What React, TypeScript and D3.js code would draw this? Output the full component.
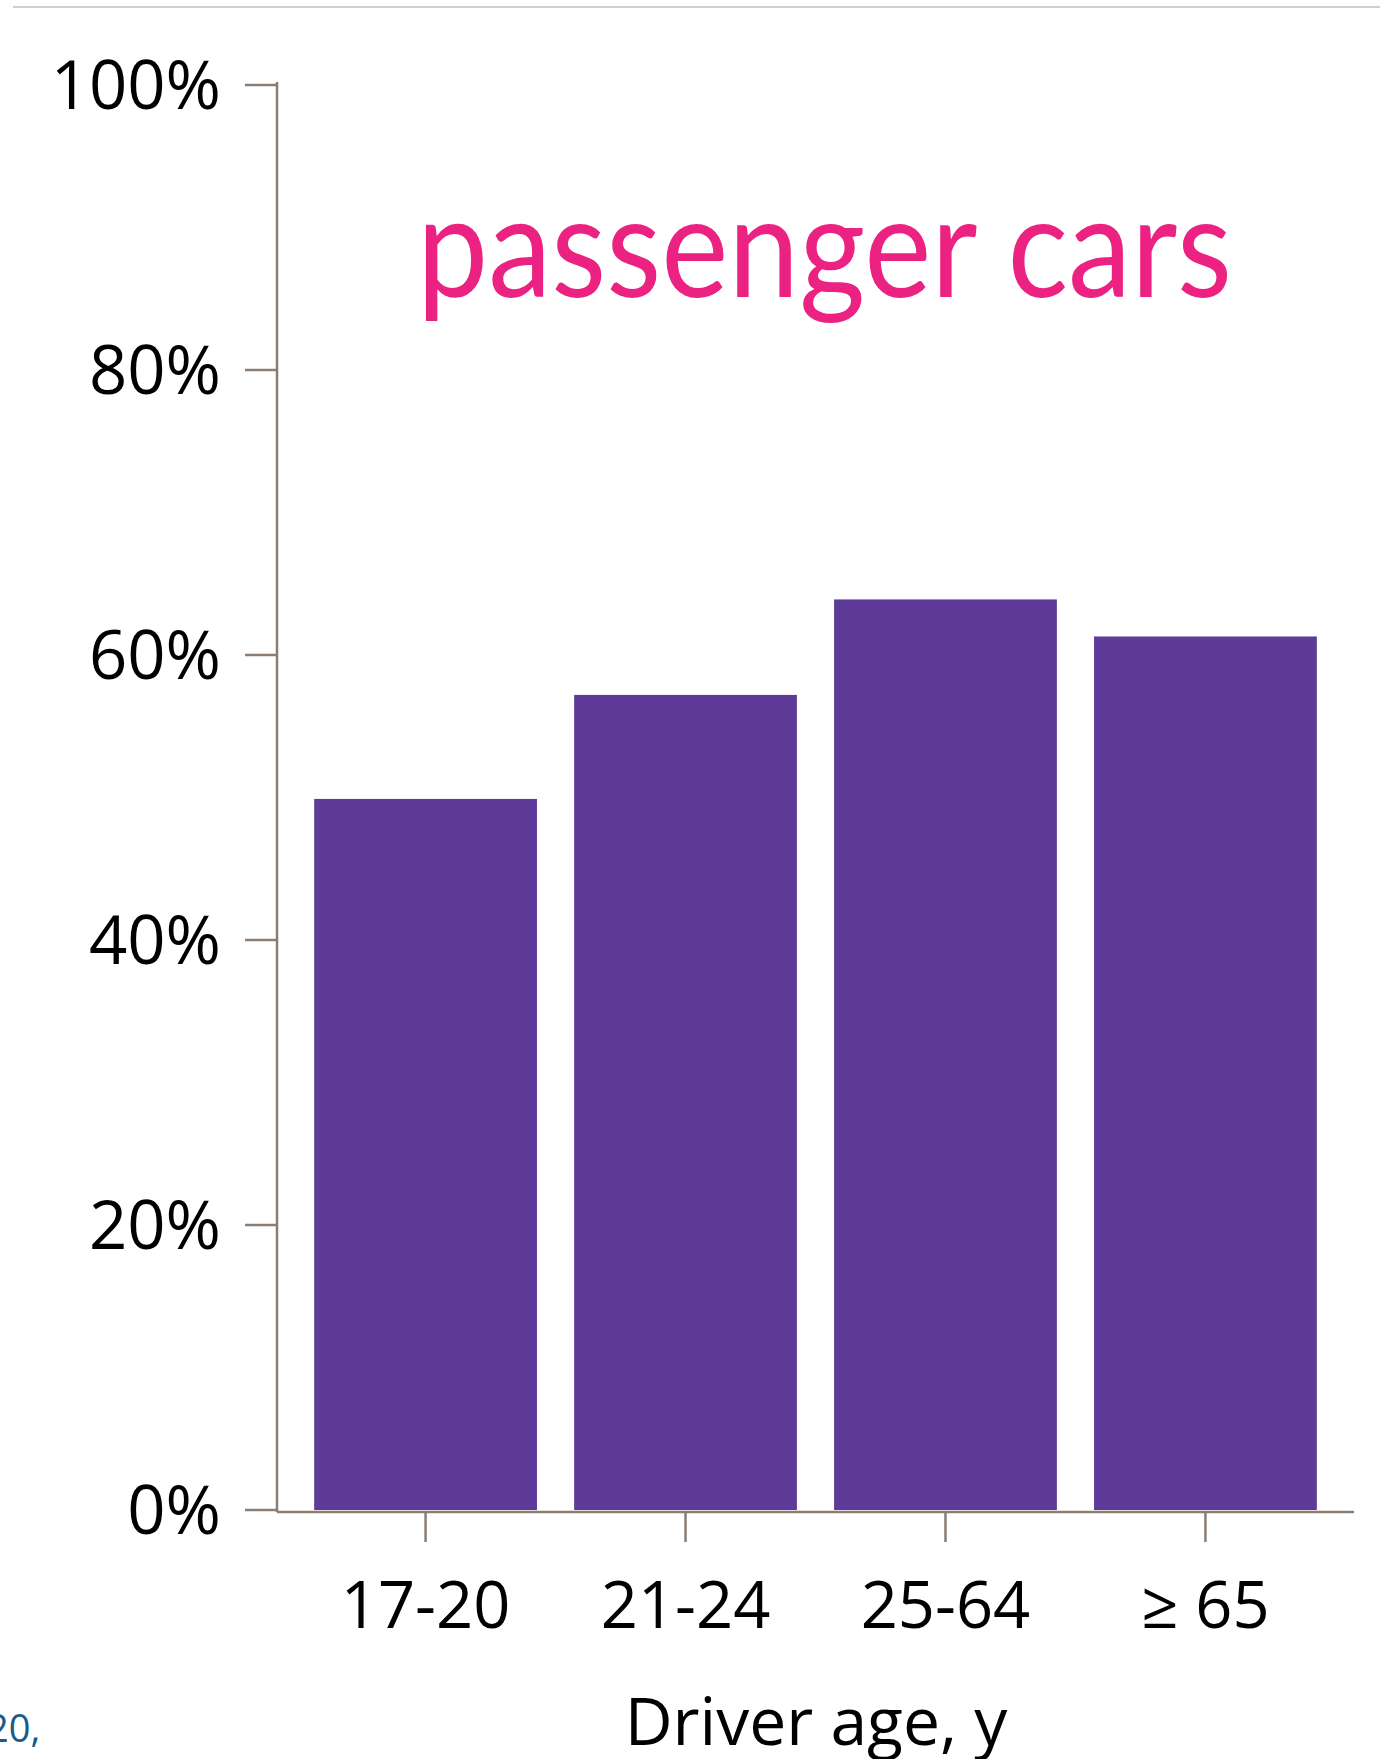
import React, { useEffect } from "react";
import * as d3 from "d3";

const categories = ["17-20", "21-24", "25-64", "≥ 65"];
const values = [49.9, 57.2, 63.9, 61.3];
const yTicks = [0, 20, 40, 60, 80, 100];
const title = "passenger cars";
const xTitle = "Driver age, y";
const footNote = "20,";

const W = 1380;
const H = 1759;
const axisColor = "#8c7d70";
const barColor = "#5e3b98";
const titleColor = "#ec2282";
const font = "'Open Sans', 'Noto Sans', sans-serif";

export default function App() {
  useEffect(() => {
    document.body.style.margin = "0";
  }, []);

  const x = d3
    .scaleBand<string>()
    .domain(categories)
    .range([277, 1354])
    .paddingInner(0.143)
    .paddingOuter(0.143);
  const y = d3.scaleLinear().domain([0, 100]).range([1510, 85]);

  return (
    <svg width={W} height={H} style={{ display: "block", background: "#fff" }}>
      <line x1={13} x2={W} y1={7} y2={7} stroke="#cfcfcf" strokeWidth={2} />
      {categories.map((c, i) => (
        <rect
          key={c}
          x={x(c)}
          y={y(values[i])}
          width={x.bandwidth()}
          height={y(0) - y(values[i])}
          fill={barColor}
        />
      ))}
      {/* y axis */}
      <line x1={277} x2={277} y1={y(100) - 3} y2={y(0) + 2} stroke={axisColor} strokeWidth={2.5} />
      {yTicks.map((t) => (
        <g key={t}>
          <line x1={245} x2={277} y1={y(t)} y2={y(t)} stroke={axisColor} strokeWidth={2.5} />
          <text
            x={221}
            y={y(t) + 24}
            textAnchor="end"
            fontFamily={font}
            fontSize={67}
            fill="#000"
          >
            {t + "%"}
          </text>
        </g>
      ))}
      {/* x axis */}
      <line x1={277} x2={1354} y1={1512} y2={1512} stroke={axisColor} strokeWidth={2.5} />
      {categories.map((c) => {
        const cx = (x(c) as number) + x.bandwidth() / 2;
        return (
          <g key={c}>
            <line x1={cx} x2={cx} y1={1512} y2={1542} stroke={axisColor} strokeWidth={2.5} />
            <text
              x={cx}
              y={1628}
              textAnchor="middle"
              fontFamily={font}
              fontSize={65}
              fill="#000"
            >
              {c}
            </text>
          </g>
        );
      })}
      <text
        x={816}
        y={1745}
        textAnchor="middle"
        fontFamily={font}
        fontSize={66}
        fill="#000"
      >
        {xTitle}
      </text>
      <text
        x={417}
        y={297}
        fontFamily={"Lato, 'Open Sans', sans-serif"}
        fontSize={142}
        fill={titleColor}
        textLength={815}
        lengthAdjust="spacingAndGlyphs"
      >
        {title}
      </text>
      <text x={-13} y={1742} fontFamily={font} fontSize={38} fill="#1a5a8c">
        {footNote}
      </text>
    </svg>
  );
}
